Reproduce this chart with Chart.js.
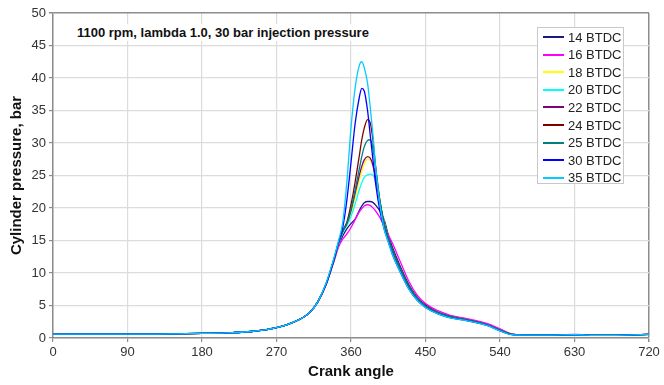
<!DOCTYPE html>
<html>
<head>
<meta charset="utf-8">
<script src="https://cdn.jsdelivr.net/npm/chart.js@4/dist/chart.umd.min.js"></script>
<style>
  body { margin: 0; background: #fff; font-family: "Liberation Sans", Arial, sans-serif; }
  #wrap { position: relative; width: 664px; height: 385px; }
  #note { position: absolute; left: 74px; top: 24px; padding: 0 3px; background: #fff;
          font: bold 13px "Liberation Sans", Arial, sans-serif; color: #111; line-height: 17px; }
  #legend { position: absolute; left: 537px; top: 27px; width: 85px; height: 155px;
            border: 1px solid #c8c8c8; background: #fff; }
  .item { position: absolute; left: 5px; height: 18px; display: flex; align-items: center;
          font: 13px "Liberation Sans", Arial, sans-serif; color: #222; }
  .item i { display: inline-block; width: 21px; height: 2px; margin-right: 4px; }
</style>
</head>
<body>
<div id="wrap">
  <canvas id="c" width="664" height="385"></canvas>
  <div id="note">1100 rpm, lambda 1.0, 30 bar injection pressure</div>
  <div id="legend"></div>
</div>
<script>
// crank angle (deg) sample points
const angles = [0,30,60,90,120,150,180,210,240,270,290,310,320,330,340,
  345,350,355,360,365,370,373,376,380,383,386,390,395,400,
  405,410,420,430,440,450,465,480,495,510,525,540,555,570,600,630,660,690,720];

const labels = ['14 BTDC','16 BTDC','18 BTDC','20 BTDC','22 BTDC','24 BTDC','25 BTDC','30 BTDC','35 BTDC'];
const colors = ['#1A1A80','#FF00FF','#FFFF00','#00FFFF','#800080','#800000','#008080','#0000FF','#00CCFF'];

const p14 = [0.6,0.6,0.6,0.6,0.65,0.6,0.7,0.8,1.0,1.6,2.4,3.9,5.6,8.3,12.2,
  14.3,15.7,16.8,17.6,18.3,19.6,20.3,20.8,21.0,21.0,20.9,20.4,19.5,18.2,
  15.9,14.0,10.9,8.2,6.3,5.1,4.0,3.4,3.0,2.6,2.1,1.3,0.6,0.5,0.45,0.5,0.4,0.45,0.55];
const p16 = [0.6,0.6,0.6,0.6,0.6,0.65,0.7,0.8,1.0,1.6,2.4,3.9,5.5,8.2,12.0,
  14.0,15.2,16.0,17.0,18.2,19.4,19.9,20.3,20.5,20.4,20.1,19.5,18.5,17.2,
  15.9,14.6,11.6,8.7,6.6,5.3,4.2,3.5,3.1,2.7,2.2,1.4,0.6,0.5,0.45,0.55,0.45,0.45,0.55];
const p18 = [0.6,0.6,0.6,0.6,0.6,0.65,0.7,0.8,1.0,1.6,2.4,3.9,5.6,8.3,12.3,
  14.5,16.3,17.4,19.0,21.5,24.2,25.6,26.8,27.5,27.4,26.6,24.8,21.2,17.8,
  15.4,13.5,10.5,7.9,6.1,4.9,3.9,3.3,2.9,2.5,2.0,1.2,0.55,0.45,0.45,0.5,0.4,0.45,0.55];
const p20 = [0.6,0.6,0.6,0.6,0.6,0.65,0.7,0.8,1.0,1.6,2.4,3.9,5.6,8.3,12.3,
  14.5,16.2,17.3,18.7,20.6,22.8,23.9,24.7,25.1,25.2,25.1,24.0,21.0,17.9,
  15.4,13.5,10.5,7.9,6.1,4.9,3.9,3.3,2.9,2.5,2.0,1.2,0.55,0.45,0.45,0.5,0.4,0.45,0.55];
const p22 = [0.6,0.6,0.6,0.6,0.6,0.65,0.7,0.8,1.0,1.6,2.4,3.9,5.6,8.3,12.3,
  14.6,16.4,17.6,19.6,22.3,25.0,26.4,27.4,27.9,27.7,26.8,24.5,20.8,17.6,
  15.4,13.5,10.5,7.9,6.1,4.9,3.9,3.3,2.9,2.5,2.0,1.2,0.55,0.45,0.45,0.5,0.4,0.45,0.55];
const p24 = [0.6,0.6,0.6,0.6,0.6,0.65,0.7,0.8,1.0,1.6,2.4,3.9,5.6,8.3,12.3,
  14.7,16.5,17.8,20.5,24.0,28.0,30.5,32.3,33.6,33.2,31.0,26.0,21.0,17.6,
  15.4,13.5,10.5,7.9,6.1,4.9,3.9,3.3,2.9,2.5,2.0,1.2,0.55,0.45,0.45,0.5,0.4,0.45,0.55];
const p25 = [0.6,0.6,0.6,0.6,0.6,0.65,0.7,0.8,1.0,1.6,2.4,3.9,5.6,8.3,12.3,
  14.6,16.4,17.6,19.8,22.8,26.0,27.9,29.4,30.4,30.5,29.5,26.0,21.0,17.6,
  15.4,13.5,10.5,7.9,6.1,4.9,3.9,3.3,2.9,2.5,2.0,1.2,0.55,0.45,0.45,0.5,0.4,0.45,0.55];
const p30 = [0.6,0.6,0.6,0.6,0.6,0.65,0.7,0.8,1.0,1.6,2.4,3.9,5.6,8.4,12.4,
  14.8,17.0,21.2,27.0,33.0,37.0,38.4,38.0,35.0,31.5,28.0,23.5,19.5,16.8,
  14.8,12.9,10.0,7.5,5.8,4.7,3.7,3.1,2.8,2.4,1.9,1.1,0.5,0.45,0.45,0.5,0.4,0.45,0.55];
const p35 = [0.6,0.6,0.6,0.6,0.6,0.65,0.7,0.8,1.0,1.6,2.4,3.9,5.6,8.5,12.6,
  15.0,17.8,24.0,32.3,38.5,41.9,42.5,41.6,39.2,35.8,32.0,26.0,20.5,16.8,
  14.8,12.9,10.0,7.5,5.8,4.7,3.7,3.1,2.8,2.4,1.9,1.1,0.5,0.45,0.45,0.5,0.4,0.45,0.55];

const series = [p14, p16, p18, p20, p22, p24, p25, p30, p35];

const datasets = series.map((vals, i) => ({
  label: labels[i],
  data: vals.map((v, k) => ({ x: angles[k], y: v })),
  borderColor: colors[i],
  backgroundColor: colors[i],
  borderWidth: 1.3,
  pointRadius: 0,
  cubicInterpolationMode: 'monotone',
  order: series.length - i
}));

// legend as html, inside the plot like the original
const lg = document.getElementById('legend');
labels.forEach((t, i) => {
  const d = document.createElement('div');
  d.className = 'item';
  d.style.top = (i * 17.6) + 'px';
  d.innerHTML = `<i style="background:${colors[i]}"></i>${t}`;
  lg.appendChild(d);
});

const tickFont = { family: '"Liberation Sans", Arial, sans-serif', size: 13 };
const titleFont = { family: '"Liberation Sans", Arial, sans-serif', size: 15, weight: 'bold' };

new Chart(document.getElementById('c'), {
  type: 'line',
  data: { datasets },
  options: {
    responsive: false,
    animation: false,
    layout: { padding: { left: 0, right: 15, top: 13, bottom: 0 } },
    plugins: { legend: { display: false }, tooltip: { enabled: false } },
    scales: {
      x: {
        type: 'linear', min: 0, max: 720,
        ticks: { stepSize: 90, color: '#333', font: tickFont, padding: 3, maxRotation: 0 },
        grid: { color: (c) => c.tick.value === 720 ? '#8c8c8c' : '#dcdcdc', lineWidth: (c) => c.tick.value === 720 ? 1.5 : 1.2,
                tickColor: '#8c8c8c', tickLength: 4 },
        border: { color: '#8c8c8c', width: 1.5 },
        title: { display: true, text: 'Crank angle', color: '#111', font: titleFont, padding: { top: 5 } },
        afterFit: (s) => { s.height = 47; }
      },
      y: {
        min: 0, max: 50,
        ticks: { stepSize: 5, color: '#333', font: tickFont, padding: 3 },
        grid: { color: (c) => c.tick.value === 50 ? '#8c8c8c' : '#dcdcdc', lineWidth: (c) => c.tick.value === 50 ? 1.5 : 1.2,
                tickColor: '#8c8c8c', tickLength: 4 },
        border: { color: '#8c8c8c', width: 1.5 },
        title: { display: true, text: 'Cylinder pressure, bar', color: '#111', font: titleFont, padding: { top: 8, bottom: 0 } },
        afterFit: (s) => { s.width = 53; }
      }
    }
  }
});
</script>
</body>
</html>
